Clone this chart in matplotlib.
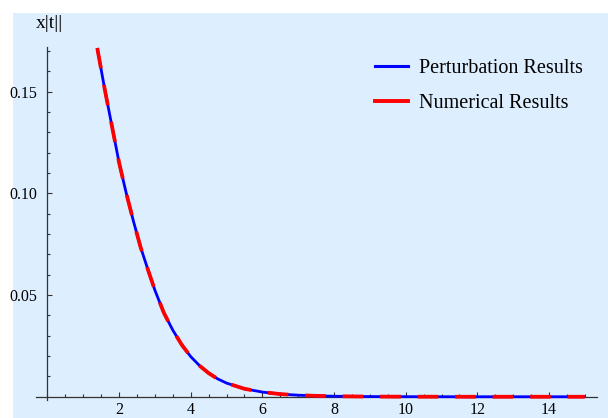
import numpy as np
import matplotlib
matplotlib.use("Agg")
import matplotlib.pyplot as plt
from matplotlib.lines import Line2D
from matplotlib.patches import Rectangle
from matplotlib.ticker import MultipleLocator, FixedLocator

# values
t = [1.39, 1.6, 1.8, 2.0, 2.2, 2.4, 2.6, 2.8, 3.0, 3.25, 3.5, 3.75, 4.0,
     4.25, 4.5, 4.75, 5.0, 5.5, 6.0, 6.5, 7.0, 7.5, 8.0, 9.0, 10.0, 11.0,
     12.0, 13.0, 14.0, 15.0]
x_pert = [0.1714, 0.151, 0.133, 0.115, 0.100, 0.0863, 0.0735, 0.0627,
          0.0523, 0.0412, 0.0327, 0.0255, 0.0197, 0.0152, 0.0116, 0.0088,
          0.0067, 0.0039, 0.0023, 0.0013, 0.00076, 0.00044, 0.00025,
          0.00008, 0.00003, 0.00001, 0.0, 0.0, 0.0, 0.0]
x_num = list(x_pert)  # numerical curve lies on top of the perturbation one

labels = ["Perturbation Results", "Numerical Results"]
yticks = [0.05, 0.10, 0.15]
ytick_labels = ["0.05", "0.10", "0.15"]
xticks = [2, 4, 6, 8, 10, 12, 14]

plt.rcParams['font.family'] = ['Liberation Serif', 'DejaVu Serif']

W, H = 608, 418
fig = plt.figure(figsize=(W / 100, H / 100), dpi=100)
fig.patch.set_facecolor('white')
bg = Rectangle((13 / W, 0), 1 - 13 / W, 1 - 13 / H, transform=fig.transFigure,
               facecolor='#ddeeff', edgecolor='none', zorder=-5)
fig.add_artist(bg)

left, right, top, bot = 36, 597, 47, 400
ax = fig.add_axes([left / W, (H - bot) / H, (right - left) / W, (bot - top) / H])
ax.set_facecolor('none')
ax.set_zorder(2)

ax.plot(t, x_pert, color='#0000ff', lw=2.0, solid_capstyle='butt', zorder=3)
ax.plot(t, x_num, color='#ff0000', lw=2.7, dashes=(5.5, 4.5),
        dash_capstyle='butt', zorder=4)

ax.set_xlim(-0.32, 15.34)
ax.set_ylim(-0.0016, 0.1719)

for s in ['top', 'right']:
    ax.spines[s].set_visible(False)
ax.spines['left'].set_position(('data', 0))
ax.spines['bottom'].set_position(('data', 0))
for s in ['left', 'bottom']:
    ax.spines[s].set_color('#333333')
    ax.spines[s].set_linewidth(0.9)

ax.xaxis.set_major_locator(FixedLocator(xticks))
ax.xaxis.set_minor_locator(MultipleLocator(0.5))
ax.set_yticks(yticks)
ax.set_yticklabels(ytick_labels)
ax.yaxis.set_minor_locator(FixedLocator(
    [v / 100 for v in range(1, 18) if v % 5 != 0]))
ax.tick_params(which='both', direction='in', color='#333333', width=0.8,
               labelsize=11.5)
ax.tick_params(which='major', length=3.5)
ax.tick_params(which='minor', length=2)
ax.tick_params(axis='y', which='major', pad=7)
ax.tick_params(axis='x', which='major', pad=4)

fig.text(36 / W, 1 - 24 / H, "x|t||", fontsize=14, va='center', ha='left')

handles = [Line2D([], [], color='#0000ff', lw=2.2),
           Line2D([], [], color='#ff0000', lw=2.8)]
ax.legend(handles, labels, loc='upper left', frameon=False, fontsize=14.5,
          bbox_to_anchor=(375 / W, 1 - 59 / H), bbox_transform=fig.transFigure,
          borderpad=0, borderaxespad=0, handlelength=1.65, handletextpad=0.55,
          labelspacing=0.8)

fig.savefig("out.png", dpi=100)
